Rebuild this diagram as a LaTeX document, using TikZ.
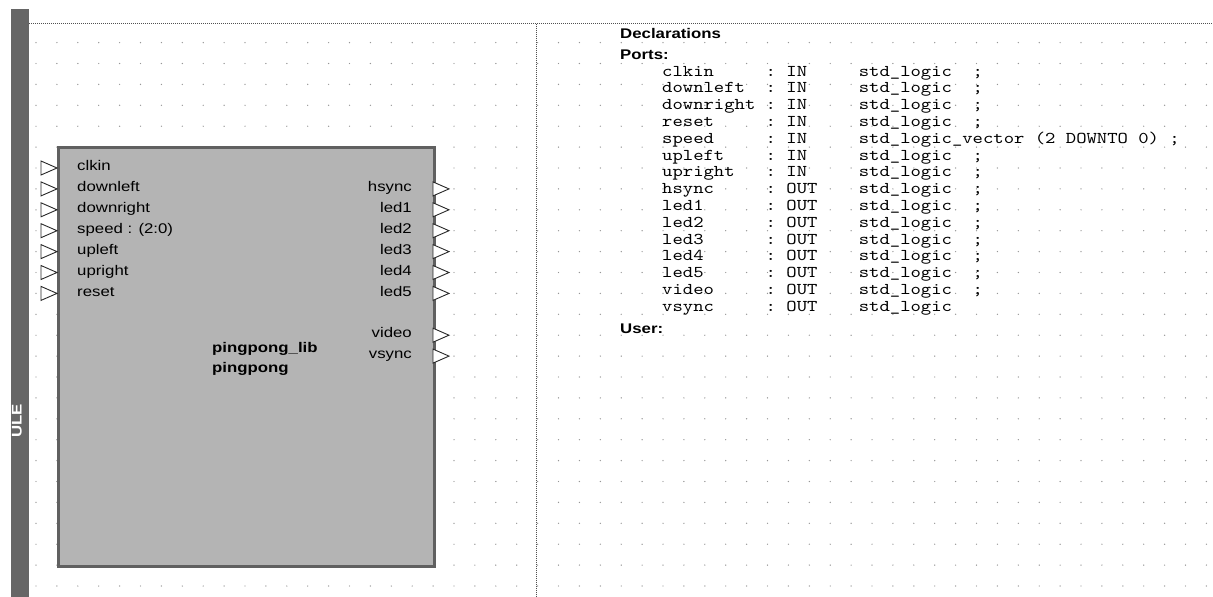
\documentclass[tikz,border=0pt]{standalone}
\usepackage{fontspec}
\setmainfont{Liberation Sans}
\newfontfamily\lbl[FakeStretch=1.2]{Liberation Sans}
\newfontfamily\decl{lmmono10-regular.otf}[FakeStretch=1.195]
\definecolor{barc}{RGB}{102,102,102}
\definecolor{boxfill}{RGB}{180,180,180}
\definecolor{boxline}{RGB}{96,96,96}
\definecolor{dotc}{RGB}{150,150,150}
\definecolor{sepc}{RGB}{80,80,80}
\definecolor{portc}{RGB}{40,40,40}
\begin{document}
\begin{tikzpicture}[x=1pt,y=-1pt,
  lab/.style={font=\lbl\fontsize{14}{16}\selectfont, inner sep=0pt, text=black},
  blab/.style={font=\lbl\bfseries\fontsize{14}{16}\selectfont, inner sep=0pt, text=black},
  inlab/.style={lab, anchor=mid west},
  outlab/.style={lab, anchor=mid east},
  declrow/.style={font=\decl\fontsize{16.5}{16}\selectfont, inner sep=0pt, anchor=base west, text height=10pt, text depth=3pt},
  sepline/.style={sepc, line width=1pt, dash pattern=on 1pt off 1pt},
  blockbox/.style={fill=boxfill, draw=boxline, line width=2.4pt},
  portline/.style={draw=portc, line width=0.9pt, fill=white, line join=miter},
  inport/.pic={\path[portline] (-16,-7) -- (0,0) -- (-16,7) -- cycle;},
  outport/.pic={\path[portline] (0,-7) -- (16,0) -- (0,7) -- cycle;}
]
\useasboundingbox (0,0) rectangle (1213,597);
% grid dots
\foreach \i in {0,...,56}{
  \foreach \j in {0,...,26}{
    \fill[dotc] ({36+20.9*\i},{42.6+20.9*\j}) circle[radius=0.7];
  }
}
% separators
\draw[sepline] (29,23.5) -- (1213,23.5);
\draw[sepline] (536.8,23.5) -- (536.8,597);
% left bar
\fill[barc] (11,9) rectangle (29,597);
\node[font=\lbl\bfseries\fontsize{14}{16}\selectfont, text=white, rotate=90, inner sep=0pt] (bartitle) at (17,421) {ULE};
% block
\node[blockbox, anchor=north west, minimum width=376pt, minimum height=419pt, inner sep=0pt] (blk) at (57.2,146.2) {};
% input ports
\foreach \yy in {168.0,188.9,209.8,230.7,251.6,272.5,293.4}{
  \pic at (57,\yy) {inport};
}
% output ports
\foreach \yy in {188.9,209.8,230.7,251.6,272.5,293.4,335.2,356.1}{
  \pic at (433,\yy) {outport};
}
% input labels
\node[inlab] (iclkin) at (77,168.0) {clkin};
\node[inlab] (idownleft) at (77,188.9) {downleft};
\node[inlab] (idownright) at (77,209.8) {downright};
\node[inlab] (ispeed) at (77,230.7) {speed : (2:0)};
\node[inlab] (iupleft) at (77,251.6) {upleft};
\node[inlab] (iupright) at (77,272.5) {upright};
\node[inlab] (ireset) at (77,293.4) {reset};
% output labels
\node[outlab] (ohsync) at (412,188.9) {hsync};
\node[outlab] (oled1) at (412,209.8) {led1};
\node[outlab] (oled2) at (412,230.7) {led2};
\node[outlab] (oled3) at (412,251.6) {led3};
\node[outlab] (oled4) at (412,272.5) {led4};
\node[outlab] (oled5) at (412,293.4) {led5};
\node[outlab] (ovideo) at (412,335.2) {video};
\node[outlab] (ovsync) at (412,356.1) {vsync};
% block names
\node[blab, anchor=base west] (libname) at (212,352) {pingpong\_lib};
\node[blab, anchor=base west] (cellname) at (212,372) {pingpong};
% declarations
\node[blab, anchor=base west] (hdecl) at (620,38.3) {Declarations};
\node[blab, anchor=base west] (hports) at (620,59) {Ports:};
\node[declrow] (d1) at (662,76.0) {clkin~~~~~:~IN~~~~~std\_logic~~;};
\node[declrow] (d2) at (662,92.8) {downleft~~:~IN~~~~~std\_logic~~;};
\node[declrow] (d3) at (662,109.6) {downright~:~IN~~~~~std\_logic~~;};
\node[declrow] (d4) at (662,126.4) {reset~~~~~:~IN~~~~~std\_logic~~;};
\node[declrow] (d5) at (662,143.2) {speed~~~~~:~IN~~~~~std\_logic\_vector~(2~DOWNTO~0)~;};
\node[declrow] (d6) at (662,160.0) {upleft~~~~:~IN~~~~~std\_logic~~;};
\node[declrow] (d7) at (662,176.8) {upright~~~:~IN~~~~~std\_logic~~;};
\node[declrow] (d8) at (662,193.6) {hsync~~~~~:~OUT~~~~std\_logic~~;};
\node[declrow] (d9) at (662,210.4) {led1~~~~~~:~OUT~~~~std\_logic~~;};
\node[declrow] (d10) at (662,227.2) {led2~~~~~~:~OUT~~~~std\_logic~~;};
\node[declrow] (d11) at (662,244.0) {led3~~~~~~:~OUT~~~~std\_logic~~;};
\node[declrow] (d12) at (662,260.8) {led4~~~~~~:~OUT~~~~std\_logic~~;};
\node[declrow] (d13) at (662,277.6) {led5~~~~~~:~OUT~~~~std\_logic~~;};
\node[declrow] (d14) at (662,294.4) {video~~~~~:~OUT~~~~std\_logic~~;};
\node[declrow] (d15) at (662,311.2) {vsync~~~~~:~OUT~~~~std\_logic};
\node[blab, anchor=base west] (huser) at (620,333) {User:};
\end{tikzpicture}
\end{document}
